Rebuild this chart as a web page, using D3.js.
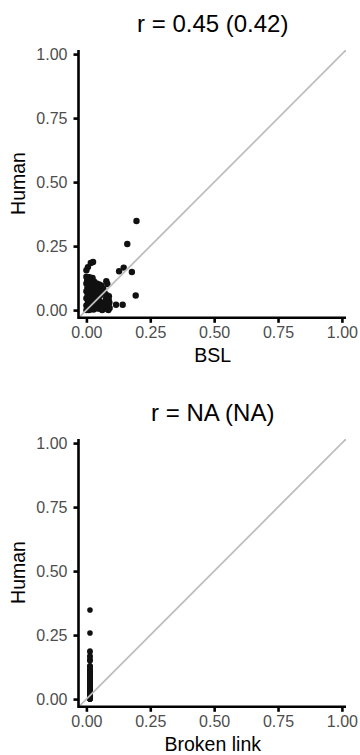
<!DOCTYPE html>
<html>
<head>
<meta charset="utf-8">
<script src="https://cdn.jsdelivr.net/npm/d3@7"></script>
<style>
  html, body { margin: 0; padding: 0; background: #fff; }
  svg { display: block; font-family: "Liberation Sans", Arial, Helvetica, sans-serif; }
</style>
</head>
<body>
<svg id="chart" width="360" height="755"></svg>
<script>
// Per-item human scores, paired with the BSL score of the same item
const human = [
  0.348, 0.258, 0.166, 0.152, 0.149, 0.057, 0.021, 0.021, 0.188, 0.184, 0.168, 0.156, 0.113,
  0.130, 0.128, 0.126, 0.118, 0.115, 0.112,
  0.104, 0.100, 0.098, 0.094,
  0.088, 0.085, 0.082,
  0.074, 0.071, 0.068, 0.066,
  0.060, 0.057, 0.054,
  0.046, 0.043, 0.040, 0.038,
  0.032, 0.029, 0.026,
  0.018, 0.015, 0.013, 0.011,
  0.005, 0.003, 0.002, 0.000, 0.000,
  0.104, 0.100, 0.096,
  0.090, 0.086, 0.084,
  0.076, 0.073, 0.070, 0.066,
  0.062, 0.058, 0.058, 0.054,
  0.048, 0.044, 0.046, 0.042,
  0.034, 0.031, 0.030, 0.033, 0.030,
  0.020, 0.018, 0.017, 0.020, 0.018,
  0.006, 0.004, 0.007, 0.005, 0.008, 0.000, 0.000,
  0.102
];
const bsl = [
  0.196, 0.160, 0.146, 0.128, 0.178, 0.193, 0.116, 0.142, 0.026, 0.017, 0.006, 0.000, 0.078,
  0.000, 0.012, 0.024, 0.003, 0.018, 0.030,
  0.000, 0.010, 0.022, 0.033,
  0.004, 0.016, 0.028,
  0.000, 0.011, 0.023, 0.034,
  0.005, 0.017, 0.029,
  0.000, 0.012, 0.024, 0.035,
  0.006, 0.018, 0.030,
  0.000, 0.011, 0.023, 0.034,
  0.005, 0.017, 0.028, 0.000, 0.010,
  0.040, 0.050, 0.058,
  0.044, 0.056, 0.066,
  0.040, 0.050, 0.062, 0.072,
  0.044, 0.054, 0.080, 0.088,
  0.040, 0.048, 0.077, 0.087,
  0.042, 0.054, 0.066, 0.078, 0.090,
  0.040, 0.050, 0.062, 0.074, 0.086,
  0.044, 0.056, 0.068, 0.080, 0.091, 0.062, 0.086,
  0.082
];
// Broken-link score is the same for every item, hence no correlation
const brokenLink = [
  0.014, 0.014, 0.014, 0.014, 0.014, 0.014, 0.014, 0.014, 0.014, 0.014, 0.014, 0.014, 0.014,
  0.014, 0.014, 0.014, 0.014, 0.014, 0.014,
  0.014, 0.014, 0.014, 0.014,
  0.014, 0.014, 0.014,
  0.014, 0.014, 0.014, 0.014,
  0.014, 0.014, 0.014,
  0.014, 0.014, 0.014, 0.014,
  0.014, 0.014, 0.014,
  0.014, 0.014, 0.014, 0.014,
  0.014, 0.014, 0.014, 0.014, 0.014,
  0.014, 0.014, 0.014,
  0.014, 0.014, 0.014,
  0.014, 0.014, 0.014, 0.014,
  0.014, 0.014, 0.014, 0.014,
  0.014, 0.014, 0.014, 0.014,
  0.014, 0.014, 0.014, 0.014, 0.014,
  0.014, 0.014, 0.014, 0.014, 0.014,
  0.014, 0.014, 0.014, 0.014, 0.014, 0.014, 0.014,
  0.014
];

const tickValues = [0, 0.25, 0.5, 0.75, 1];
const panelTitles = ["r = 0.45 (0.42)", "r = NA (NA)"];
const xTitles = ["BSL", "Broken link"];
const yTitle = "Human";
const axisDomain = [-0.027, 1.016];

const svg = d3.select("#chart");
const fmt = d3.format(".2f");

const panels = [
  { xs: bsl, top: 50, bottom: 317, r: 3.2 },
  { xs: brokenLink, top: 439, bottom: 706, r: 2.8 }
];
const left = 79.5, right = 346;

panels.forEach((p, i) => {
  const x = d3.scaleLinear().domain(axisDomain).range([left, right]);
  const y = d3.scaleLinear().domain(axisDomain).range([p.bottom, p.top]);
  const g = svg.append("g");

  const clipId = "clip" + i;
  g.append("clipPath").attr("id", clipId)
    .append("rect")
    .attr("x", left).attr("y", p.top)
    .attr("width", right - left).attr("height", p.bottom - p.top);

  // points
  const pts = p.xs.map((v, k) => [v, human[k]]);
  g.append("g").selectAll("circle").data(pts).join("circle")
    .attr("cx", d => x(d[0]))
    .attr("cy", d => y(d[1]))
    .attr("r", p.r)
    .attr("fill", "#111");

  // identity line
  g.append("line")
    .attr("clip-path", `url(#${clipId})`)
    .attr("x1", x(axisDomain[0])).attr("y1", y(axisDomain[0]))
    .attr("x2", x(axisDomain[1])).attr("y2", y(axisDomain[1]))
    .attr("stroke", "#bebebe").attr("stroke-width", 1.8);

  // y axis
  const yAxisX = left - 1;
  const ya = g.append("g").attr("transform", `translate(${yAxisX},0)`)
    .call(d3.axisLeft(y).tickValues(tickValues).tickFormat(fmt)
      .tickSize(5).tickPadding(6));
  ya.select(".domain").remove();
  ya.selectAll(".tick line").attr("stroke", "#000").attr("stroke-width", 2.6);
  ya.selectAll(".tick text").attr("fill", "#4d4d4d").attr("font-size", 16)
    .attr("font-family", "Liberation Sans, Arial, sans-serif");

  // x axis
  const xAxisY = p.bottom + 0.8;
  const xa = g.append("g").attr("transform", `translate(0,${xAxisY})`)
    .call(d3.axisBottom(x).tickValues(tickValues).tickFormat(fmt)
      .tickSize(5).tickPadding(4));
  xa.select(".domain").remove();
  xa.selectAll(".tick line").attr("stroke", "#000").attr("stroke-width", 2.6);
  xa.selectAll(".tick text").attr("fill", "#4d4d4d").attr("font-size", 16)
    .attr("font-family", "Liberation Sans, Arial, sans-serif");

  // axis lines
  g.append("path")
    .attr("d", `M${yAxisX},${p.top}V${xAxisY}H${right}`)
    .attr("fill", "none").attr("stroke", "#000")
    .attr("stroke-width", 2.6).attr("stroke-linecap", "butt")
    .attr("stroke-linejoin", "miter");

  const cx = (left + right) / 2;
  // panel title
  g.append("text").attr("x", cx).attr("y", p.top - 18)
    .attr("text-anchor", "middle").attr("font-size", 24).attr("fill", "#000")
    .text(panelTitles[i]);
  // x title
  g.append("text").attr("x", cx).attr("y", p.bottom + 45)
    .attr("text-anchor", "middle").attr("font-size", 19.5).attr("fill", "#000")
    .text(xTitles[i]);
  // y title
  g.append("text")
    .attr("transform", `translate(25,${(p.top + p.bottom) / 2}) rotate(-90)`)
    .attr("text-anchor", "middle").attr("font-size", 19.5).attr("fill", "#000")
    .text(yTitle);
});
</script>
</body>
</html>
